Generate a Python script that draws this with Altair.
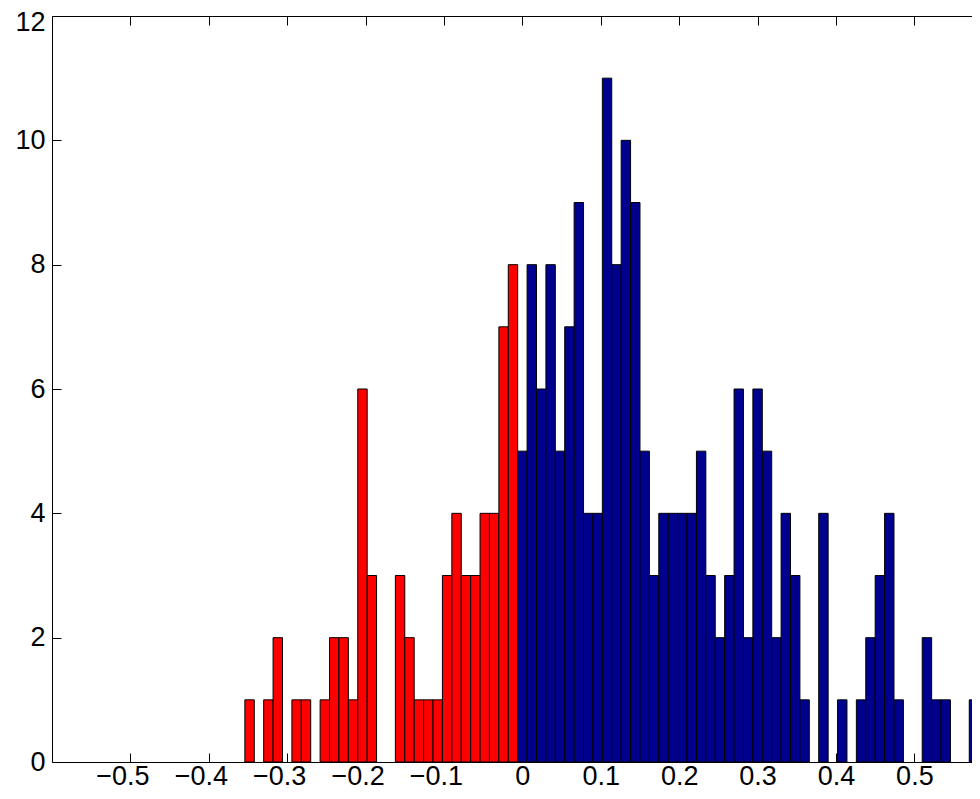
import altair as alt
import pandas as pd

# Histogram: bin centres are k * 0.012, k = -29 .. 48
bin_width = 0.012
neg_counts = [1, 0, 1, 2, 0, 1, 1, 0, 1, 2, 2, 1, 6, 3, 0, 0, 3, 2, 1, 1, 1, 3, 4, 3, 3, 4, 4, 7, 8]
pos_counts = [5, 8, 6, 8, 5, 7, 9, 4, 4, 11, 8, 10, 9, 5, 3,
              4, 4, 4, 4, 5, 3, 2, 3, 6, 2, 6, 5, 2, 4, 3, 1,
              0, 4, 0, 1, 0, 1, 2, 3, 4, 1, 0, 0, 2, 1, 1, 0, 0, 1]
x_ticks = [-0.5, -0.4, -0.3, -0.2, -0.1, 0, 0.1, 0.2, 0.3, 0.4, 0.5]
y_ticks = [0, 2, 4, 6, 8, 10, 12]

rows = []
for i, c in enumerate(neg_counts):
    k = i - len(neg_counts)
    rows.append({"center": k * bin_width, "count": c, "side": "neg"})
for k, c in enumerate(pos_counts):
    rows.append({"center": k * bin_width, "count": c, "side": "pos"})
df = pd.DataFrame(rows)
df["left"] = df["center"] - bin_width / 2
df["right"] = df["center"] + bin_width / 2

FONT = "Liberation Sans"
FS = 27
xscale = alt.Scale(domain=[-0.6, 0.5735], nice=False, zero=False)
yscale = alt.Scale(domain=[0, 12], nice=False)

base = alt.Chart(df)

bars = base.transform_filter("datum.count > 0").mark_bar(
    stroke="black", strokeWidth=1, clip=True
).encode(
    x=alt.X("left:Q", scale=xscale, axis=alt.Axis(
        orient="bottom", values=x_ticks, format="~g", offset=-9, tickSize=9,
        domain=False, grid=False, title=None, labelPadding=1,
        labelOffset={"condition": {"test": "datum.value < 0", "value": -8}, "value": 0},
        labelFont=FONT, labelFontSize=FS, labelColor="black",
        tickColor="black", labelFlush=False, labelOverlap=False)),
    x2="right:Q",
    y=alt.Y("count:Q", scale=yscale, axis=alt.Axis(
        orient="left", values=y_ticks, format="d", offset=-9, tickSize=9,
        domain=False, grid=False, title=None, labelPadding=7,
        labelOffset={"condition": {"test": "datum.value >= 12", "value": 6}, "value": 0},
        labelFont=FONT, labelFontSize=FS, labelColor="black",
        tickColor="black", labelFlush=False, labelOverlap=False)),
    y2=alt.datum(0),
    color=alt.Color("side:N", scale=alt.Scale(domain=["neg", "pos"],
                                              range=["#FF0000", "#00008F"]),
                    legend=None),
)

frame_bl = base.mark_point(opacity=0).encode(
    x=alt.X("left:Q", scale=xscale, axis=alt.Axis(
        orient="bottom", domain=True, ticks=False, labels=False, grid=False,
        title=None, domainColor="black", domainWidth=1)),
    y=alt.Y("count:Q", scale=yscale, axis=alt.Axis(
        orient="left", domain=True, ticks=False, labels=False, grid=False,
        title=None, domainColor="black", domainWidth=1)),
)

frame_top = base.mark_point(opacity=0).encode(
    x=alt.X("left:Q", scale=xscale, axis=alt.Axis(
        orient="top", domain=True, ticks=False, labels=False, grid=False,
        title=None, domainColor="black", domainWidth=1)),
    y=alt.Y("count:Q", scale=yscale, axis=None),
)

ticks_top = base.mark_point(opacity=0).encode(
    x=alt.X("left:Q", scale=xscale, axis=alt.Axis(
        orient="top", values=x_ticks, offset=-9, tickSize=9, domain=False,
        labels=False, grid=False, title=None, tickColor="black")),
    y=alt.Y("count:Q", scale=yscale, axis=None),
)

chart = alt.layer(bars, frame_bl, frame_top, ticks_top).resolve_axis(
    x="independent", y="independent"
).properties(
    width=920, height=746,
    autosize=alt.AutoSizeParams(type="none"),
    padding={"left": 44, "top": 8, "right": 0, "bottom": 28},
).configure_view(stroke=None)

chart.save("out.html", embed_options={"renderer": "svg", "actions": False})
